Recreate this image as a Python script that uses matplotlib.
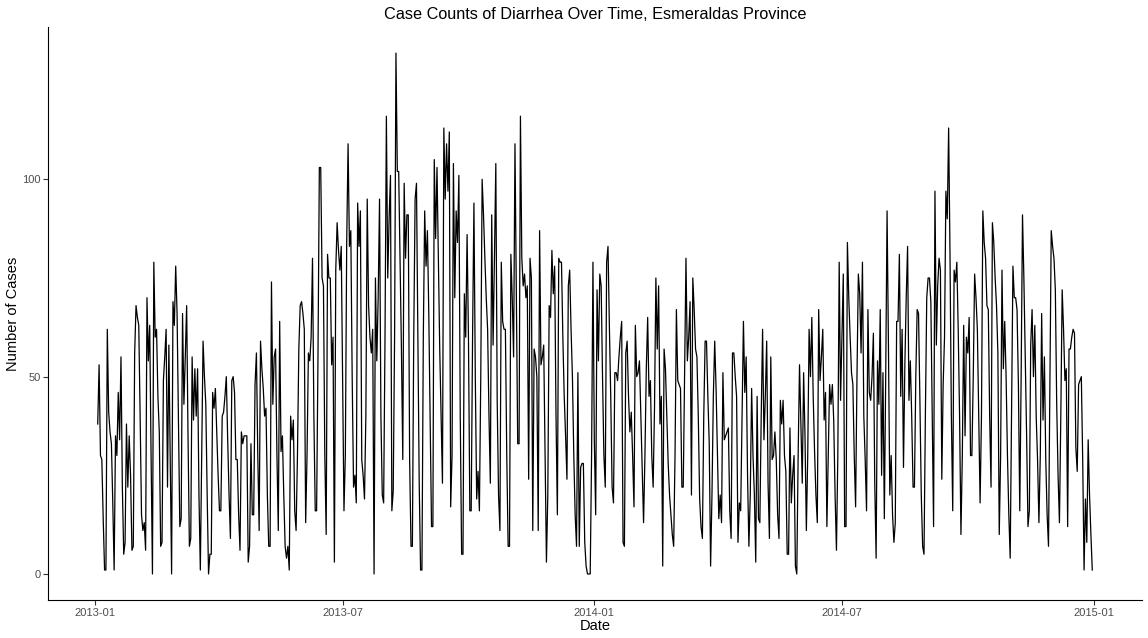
import matplotlib
matplotlib.use("Agg")
import matplotlib.pyplot as plt
import matplotlib.dates as mdates
import pandas as pd

# daily case counts in consecutive stretches
cases_a = [38, 53, 30, 29, 14, 1, 1, 62, 41, 36,
           33, 18, 1, 35, 30, 46, 34, 55, 22, 5,
           8, 38, 22, 35, 25, 6, 7, 56, 68, 65,
           63, 40, 15, 11, 13, 6, 70, 54, 63, 30,
           0, 79, 60, 62, 45, 36, 7, 8, 49, 55,
           62, 22, 58, 30, 0, 69, 63, 78, 66, 40,
           12, 14, 66, 43, 55, 68, 35, 7, 9, 55,
           39, 52]
cases_b = [40, 52, 20, 1, 30, 59, 50, 43, 20, 0,
           5, 5, 46, 42, 47, 36, 25, 16, 16, 40,
           41, 45, 50, 34, 20, 9, 49, 50, 46, 29,
           29, 15, 6, 36, 33, 35, 35, 35, 3, 7,
           33, 15, 15, 48, 56, 30, 11, 59, 52, 47,
           40, 42, 20, 7, 7, 74, 43, 55, 57, 30,
           11, 64, 31, 35, 20, 7, 4, 7, 1, 40,
           34, 39, 16, 11, 30, 57, 68, 69]
cases_c = [66, 62, 13, 30, 56, 54, 60, 80, 40, 16,
           16, 55, 103, 103, 75, 73, 30, 10, 81, 75,
           75, 53, 60, 3, 77, 89, 82, 77, 83, 50,
           16, 30, 84, 109, 83, 87, 50, 22, 25, 18,
           94, 83, 92, 29, 25, 19, 40, 95, 68, 60,
           56, 62, 0, 75, 54, 70, 95, 40, 20, 18,
           60, 116, 75, 90, 101, 16, 21, 60, 132, 102,
           102, 80, 57, 29, 99, 80]
cases_d = [91, 91, 29, 7, 7, 60, 95, 99, 60, 23,
           1, 1, 60, 92, 78, 87, 66, 40, 12, 12,
           105, 85, 103, 80, 57, 40, 23, 113, 95, 109,
           97, 112, 17, 30, 104, 70, 92, 84, 101, 40,
           5, 5, 71, 60, 86, 60, 16, 16, 60, 94,
           50, 19, 26, 16, 50, 100, 91, 80, 70, 62,
           40, 23, 91, 58, 80, 104, 44, 20, 11, 79,
           64, 62, 62, 30, 7, 7, 81, 70]
cases_e = [55, 109, 70, 33, 33, 116, 80, 73, 76, 70,
           73, 24, 80, 75, 11, 57, 55, 50, 11, 87,
           53, 55, 58, 30, 3, 20, 68, 65, 82, 71,
           78, 40, 15, 80, 79, 79, 60, 45, 35, 24,
           73, 77, 62, 50, 30, 15, 7, 51, 7, 27,
           28, 28, 8, 2, 0, 0, 0, 30, 79, 34,
           15, 72, 54, 76, 73, 50, 30, 22, 79, 83,
           63, 45, 22, 18, 51]
cases_f = [51, 49, 55, 60, 64, 8, 7, 56, 59, 45,
           36, 41, 30, 17, 63, 50, 51, 54, 40, 25,
           13, 30, 52, 65, 45, 49, 30, 22, 42, 75,
           57, 73, 38, 45, 2, 57, 52, 40, 28, 20,
           15, 10, 7, 30, 67, 49, 48, 47, 22, 22,
           50, 80, 54, 60, 69, 20, 75, 67, 57, 55,
           40, 19, 12, 9, 40, 59, 59, 45, 33, 2,
           20, 45, 59, 47, 30, 14, 20]
cases_g = [13, 51, 34, 35, 36, 37, 16, 9, 56, 56,
           50, 45, 8, 18, 16, 40, 64, 46, 55, 25,
           7, 20, 47, 30, 20, 3, 45, 14, 13, 40,
           62, 34, 45, 59, 23, 9, 55, 29, 30, 36,
           29, 15, 9, 44, 38, 44, 30, 26, 5, 5,
           37, 18, 25, 30, 2, 0, 30, 53, 38, 23,
           51, 35, 11, 30, 62, 50, 65, 45, 31, 20,
           13, 67, 49, 55, 62, 39]
cases_h = [46, 12, 30, 48, 43, 48, 39, 20, 6, 30,
           79, 44, 60, 76, 12, 12, 84, 70, 60, 51,
           48, 30, 17, 50, 76, 71, 56, 79, 40, 29,
           16, 67, 46, 44, 50, 61, 23, 4, 54, 43,
           67, 25, 51, 14, 50, 92, 58, 20, 30, 15,
           8, 13, 64, 64, 81, 45, 62, 27, 53, 70,
           83, 44, 54, 40, 22, 22, 50, 67, 66, 44,
           20, 7, 5, 40, 70, 75]
cases_i = [75, 69, 40, 12, 97, 58, 73, 80, 77, 24,
           48, 60, 97, 90, 113, 81, 40, 16, 77, 74,
           79, 62, 40, 10, 30, 63, 35, 60, 56, 65,
           30, 30, 50, 76, 70, 62, 40, 18, 40, 92,
           84, 80, 68, 67, 40, 22, 89, 84, 75, 68,
           56, 10, 30, 77, 52, 64, 50, 30, 15, 4,
           40, 78, 70, 70, 67, 48, 16, 50, 91, 75,
           55, 35, 12, 16, 58, 67, 50]
cases_j = [63, 40, 29, 13, 30, 66, 39, 55, 29, 15,
           7, 48, 87, 83, 80, 72, 43, 25, 13, 40,
           72, 62, 49, 52, 12, 57, 57, 60, 62, 61,
           32, 26, 48, 49, 50, 29, 1, 19, 8, 34,
           20, 10, 1]

last_day = "2014-12-31"
y_ticks = [0, 50, 100]

cases = (cases_a + cases_b + cases_c + cases_d + cases_e +
         cases_f + cases_g + cases_h + cases_i + cases_j)
dates = pd.date_range(end=last_day, periods=len(cases), freq="D")

plt.rcParams["font.family"] = ["Liberation Sans", "DejaVu Sans"]

fig = plt.figure(figsize=(11.48, 6.38), dpi=100)
ax = fig.add_axes([48 / 1148, 38 / 638, 1094 / 1148, 573 / 638])

ax.plot(dates, cases, color="black", linewidth=0.9)
ax.margins(x=0.05, y=0.05)

ax.set_yticks(y_ticks)
ax.xaxis.set_major_locator(mdates.MonthLocator(bymonth=[1, 7]))
ax.xaxis.set_major_formatter(mdates.DateFormatter("%Y-%m"))

for side in ["top", "right"]:
    ax.spines[side].set_visible(False)
for side in ["left", "bottom"]:
    ax.spines[side].set_linewidth(0.8)
ax.tick_params(length=3.5, width=0.8, color="#333333",
               labelcolor="#4D4D4D", labelsize=8, pad=2)

ax.set_xlabel("Date", fontsize=10.5, labelpad=1)
ax.set_ylabel("Number of Cases", fontsize=10.5, labelpad=1)
ax.set_title("Case Counts of Diarrhea Over Time, Esmeraldas Province",
             fontsize=11.7, pad=6)

fig.savefig("out.png", dpi=100)
